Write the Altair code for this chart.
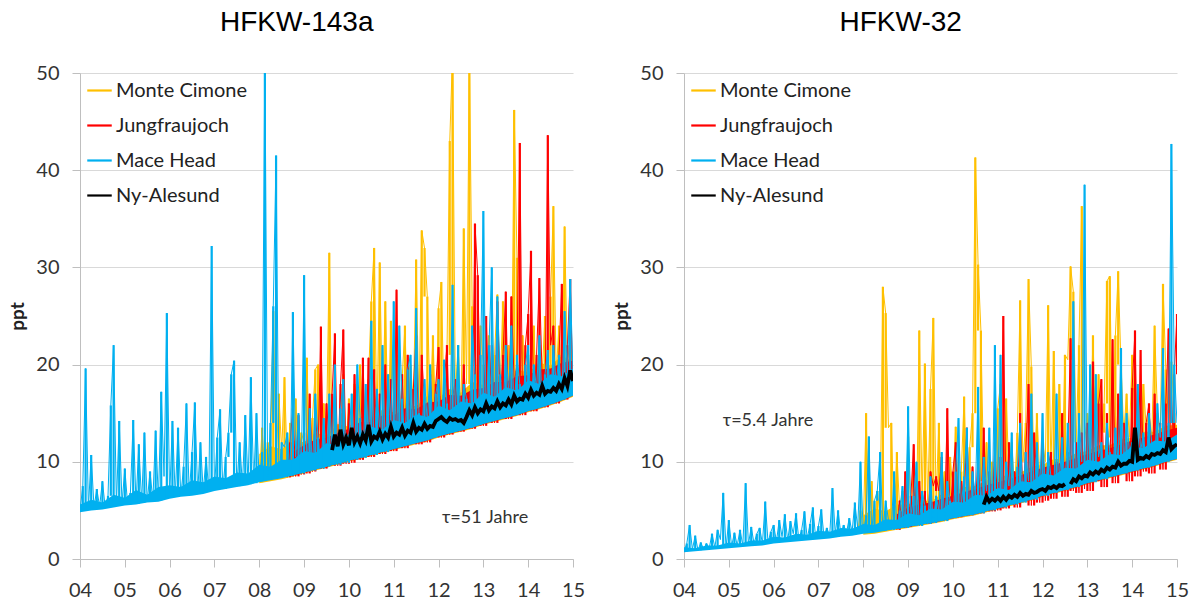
import altair as alt
import pandas as pd

STEP = 1 / 16          # spacing of the spike series (years)
BAND_STEP = 1 / 4      # spacing of the dense-band envelopes (years)
STATIONS = ["Monte Cimone", "Jungfraujoch", "Mace Head", "Ny-Alesund"]
COLORS = ["#FFC000", "#FF0000", "#00B0F0", "#000000"]
YEAR_TICKS = list(range(2004, 2016))
PPT_TICKS = [0, 10, 20, 30, 40, 50]
TITLES = ["HFKW-143a", "HFKW-32"]
NOTES = ["\u03c4=51 Jahre", "\u03c4=5.4 Jahre"]

# ---------------- HFKW-143a : spike series ----------------
A_MH_START = 2004.0
A_MH = [
    5.0, 7.5, 19.6, 5.2, 10.7, 5.3, 7.2, 5.4, 8.0, 5.3, 6.5, 15.8, 22.0, 5.6, 14.2, 5.7,
    9.3, 5.6, 6.8, 14.3, 5.7, 11.8, 5.8, 13.0, 5.9, 9.0, 6.0, 13.2, 6.0, 17.2, 8.5, 25.3,
    6.3, 14.2, 6.4, 13.5, 6.5, 9.5, 16.0, 6.6, 11.0, 16.1, 6.8, 12.0, 6.9, 10.5, 7.0, 32.2,
    7.1, 12.5, 15.4, 7.2, 10.5, 13.0, 19.0, 20.4, 7.5, 12.0, 7.6, 14.8, 7.7, 18.7, 7.8, 15.0,
    8.0, 11.0, 52.0, 8.2, 14.0, 26.0, 41.5, 8.4, 12.0, 11.5, 13.0, 8.6, 25.4, 10.5, 15.0, 8.8,
    29.2, 9.0, 15.5, 9.1, 17.0, 12.5, 9.3, 14.5, 9.5, 17.0, 11.5, 20.0, 9.7, 15.5, 18.5, 9.9,
    12.5, 17.0, 10.2, 20.0, 14.5, 10.4, 18.0, 12.5, 24.5, 10.7, 17.5, 13.0, 22.0, 11.0, 19.0, 14.0,
    26.5, 11.5, 24.0, 16.5, 11.7, 19.5, 21.0, 12.0, 25.8, 15.0, 12.2, 18.5, 14.0, 20.0, 12.5, 17.0,
    18.5, 12.8, 20.5, 16.0, 13.0, 28.2, 15.0, 22.0, 13.3, 18.0, 16.5, 13.5, 24.0, 19.0, 13.8, 21.0,
    35.8, 14.2, 22.0, 30.0, 14.4, 27.0, 19.0, 14.6, 22.0, 17.0, 24.0, 14.9, 21.0, 18.0, 15.2, 20.0,
    22.0, 15.4, 20.0, 17.5, 23.0, 15.7, 19.0, 21.5, 16.0, 22.0, 18.0, 21.0, 16.4, 25.5, 19.0, 28.8,
    19.0,
]
A_MC_START = 2008.0
A_MC = [
    7.9, 13.5, 9.0, 12.0, 10.5, 25.5, 9.5, 17.0, 11.0, 18.7, 9.6, 14.0, 10.5, 16.5, 9.8, 13.0,
    12.0, 20.7, 10.0, 14.5, 19.5, 20.0, 11.0, 16.0, 13.0, 31.5, 11.5, 17.0, 12.0, 15.0, 19.0, 11.5,
    16.5, 13.0, 18.0, 12.0, 20.0, 14.0, 12.5, 18.5, 26.5, 32.0, 14.0, 30.5, 15.0, 26.5, 13.5, 24.5,
    15.0, 21.0, 13.5, 18.5, 24.0, 14.0, 20.0, 16.0, 30.8, 15.0, 33.8, 32.0, 27.0, 15.5, 23.0, 14.0,
    25.8, 28.5, 15.0, 21.0, 43.0, 52.0, 17.0, 22.0, 15.0, 34.0, 18.0, 52.0, 26.0, 22.0, 16.0, 24.0,
    20.0, 14.3, 23.0, 16.5, 21.0, 27.2, 17.5, 26.5, 18.0, 22.0, 14.8, 46.2, 31.0, 18.5, 23.0, 17.5,
    21.0, 18.5, 24.0, 15.5, 22.0, 19.0, 25.0, 16.0, 27.0, 36.3, 19.0, 24.0, 16.4, 34.2, 20.0, 23.0,
    16.8,
]
A_JFJ_START = 2008.625
A_JFJ = [
    8.4, 12.0, 15.5, 8.5, 14.8, 8.7,
    13.0, 8.8, 17.0, 9.0, 15.0, 11.0, 23.9, 9.3, 16.0, 12.0, 17.0, 23.2, 9.6, 18.0, 23.6, 9.8,
    16.0, 9.9, 19.0, 12.0, 10.2, 20.7, 11.5, 20.7, 10.5, 19.5, 12.0, 17.0, 10.8, 20.0, 12.0, 18.5,
    11.1, 27.7, 12.5, 19.0, 11.4, 21.0, 13.0, 17.5, 23.0, 11.8, 21.0, 16.0, 12.0, 19.0, 14.0, 18.0,
    21.8, 12.5, 18.0, 22.0, 12.8, 16.5, 18.5, 14.5, 13.1, 20.0, 15.0, 17.0, 13.4, 34.5, 29.2, 15.5,
    13.7, 25.0, 16.0, 22.0, 14.0, 26.5, 16.5, 21.0, 27.5, 14.4, 27.0, 18.0, 20.0, 42.8, 14.8, 22.0,
    25.2, 31.7, 15.2, 21.0, 28.9, 18.5, 15.6, 43.6, 22.0, 24.0, 16.0, 21.0, 28.3, 16.4, 22.0, 28.8,
    17.0,
]
A_NY_START = 2009.625
A_NY = [
    11.2, 12.8, 11.6, 13.3, 11.8, 12.5,
    11.7, 13.5, 12.0, 12.6, 11.9, 12.8, 12.2, 13.8, 12.1, 12.6, 12.4, 13.1, 12.3, 12.9, 12.5, 13.6,
    12.6, 13.0, 12.8, 13.5, 12.7, 13.2, 13.0, 14.0, 13.1, 13.5, 13.3, 13.9, 13.4, 13.7, 13.6, 14.2,
    14.4, 14.6, 14.3, 14.1, 14.5, 14.3, 14.4, 14.2, 14.3, 14.0, 14.6, 15.3, 14.8, 15.6, 15.0, 15.4,
    15.2, 16.0, 15.3, 15.7, 15.5, 16.2, 15.6, 16.0, 15.8, 16.4, 15.9, 16.8, 16.2, 16.5, 16.4, 17.0,
    16.6, 17.4, 16.8, 17.1, 16.9, 17.8, 17.0, 17.3, 17.2, 17.6, 17.3, 18.0, 17.5, 18.6, 17.8, 19.4,
    18.3,
]

# ---------------- HFKW-143a : dense-band envelopes ----------------
A_MH_BAND_START = 2004.0
A_MH_BAND_LO = [
    4.8, 5.0, 5.1, 5.3, 5.5, 5.6, 5.8, 5.9, 6.2, 6.4, 6.5, 6.7, 7.0, 7.2, 7.4, 7.6,
    7.9, 8.1, 8.3, 8.6, 8.9, 9.2, 9.5, 9.8, 10.1, 10.4, 10.7, 11.0, 11.3, 11.6, 11.9, 12.2,
    12.6, 12.9, 13.2, 13.5, 13.9, 14.2, 14.5, 14.8, 15.2, 15.5, 15.9, 16.3, 16.8,
]
A_MH_BAND_HI = [
    5.6, 6.1, 5.8, 6.6, 6.3, 7.1, 6.6, 7.4, 7.6, 7.4, 8.1, 7.9, 8.5, 8.3, 8.9, 8.8,
    9.7, 9.5, 10.2, 10.2, 11.1, 10.9, 11.9, 11.7, 12.9, 12.6, 13.6, 13.3, 14.3, 14.0, 14.9, 14.6,
    15.8, 15.3, 16.2, 16.0, 17.1, 16.7, 17.7, 17.3, 18.4, 18.0, 19.0, 18.8, 19.6,
]
A_MC_BAND_START = 2008.0
A_MC_BAND_LO = [
    7.8, 8.0, 8.2, 8.5, 8.8, 9.1, 9.4, 9.7, 10.0, 10.3, 10.6, 10.9, 11.2, 11.5, 11.8, 12.1,
    12.5, 12.8, 13.1, 13.4, 13.8, 14.1, 14.4, 14.7, 15.1, 15.4, 15.8, 16.2, 16.7,
]
A_MC_BAND_HI = [
    10.8, 11.6, 11.3, 12.2, 12.0, 13.0, 12.7, 13.9, 13.6, 14.7, 14.3, 15.4, 15.1, 16.0, 15.7, 16.8,
    16.6, 17.5, 17.1, 18.2, 17.9, 18.9, 18.6, 19.5, 19.2, 20.2, 19.9, 20.9, 20.3,
]
A_JFJ_BAND_START = 2008.75
A_JFJ_BAND_LO = [
    8.6, 8.9, 9.2, 9.5, 9.8, 10.1, 10.4, 10.7, 11.0, 11.3, 11.6, 11.9, 12.2,
    12.6, 12.9, 13.2, 13.5, 13.9, 14.2, 14.5, 14.8, 15.2, 15.5, 15.9, 16.3, 16.8,
]
A_JFJ_BAND_HI = [
    11.0, 11.7, 12.3, 12.5, 13.0, 13.4, 14.1, 14.1, 14.8, 14.8, 15.5, 15.4, 16.1,
    16.2, 16.9, 16.8, 17.4, 17.6, 18.2, 18.2, 18.8, 18.9, 19.5, 19.6, 20.2, 20.4,
]

# ---------------- HFKW-32 : spike series ----------------
B_MH_START = 2004.0
B_MH = [
    0.8, 1.6, 3.5, 1.0, 2.4, 0.9, 1.7, 1.0, 1.6, 1.1, 2.6, 1.2, 3.0, 2.0, 6.8, 1.2,
    4.0, 1.3, 2.7, 1.4, 3.0, 1.4, 7.8, 1.5, 3.3, 1.6, 2.6, 3.2, 1.6, 5.9, 1.7, 2.8,
    3.5, 1.8, 4.0, 2.3, 4.6, 1.9, 3.9, 2.6, 4.7, 2.0, 3.0, 4.9, 2.1, 3.6, 5.3, 2.2,
    3.4, 5.1, 2.3, 3.2, 2.4, 7.3, 2.6, 5.0, 2.5, 3.5, 2.7, 4.2, 2.8, 5.8, 3.2, 10.0,
    2.7, 4.5, 12.6, 2.8, 6.0, 7.0, 11.0, 2.9, 6.0, 4.0, 3.0, 9.0, 3.1, 5.0, 7.5, 3.2,
    15.7, 4.5, 6.5, 10.0, 3.4, 7.0, 5.5, 3.6, 8.5, 3.7, 6.5, 5.0, 11.0, 3.9, 8.0, 6.0,
    4.2, 9.0, 14.5, 5.5, 8.5, 13.5, 4.5, 9.0, 6.5, 17.7, 4.7, 10.5, 7.0, 13.5, 5.0, 22.0,
    6.5, 21.0, 5.3, 10.0, 7.5, 13.0, 5.6, 9.5, 14.0, 5.8, 11.0, 8.0, 17.0, 6.1, 12.0, 7.5,
    15.0, 6.5, 11.0, 8.5, 6.8, 17.0, 8.0, 12.5, 7.1, 14.0, 9.0, 26.5, 7.4, 15.0, 10.0, 38.5,
    9.0, 20.0, 7.9, 19.0, 10.5, 12.0, 8.2, 14.0, 11.0, 8.5, 13.5, 10.0, 21.7, 8.8, 15.0, 11.0,
    12.0, 9.1, 18.0, 11.0, 13.0, 9.4, 15.0, 12.0, 9.7, 16.0, 12.5, 21.7, 10.0, 14.0, 42.7, 20.0,
    14.0,
]
B_MC_START = 2007.875
B_MC = [
    2.7, 5.0,
    3.0, 15.0, 4.0, 8.0, 3.5, 7.0, 4.5, 28.0, 25.3, 13.5, 14.0, 3.8, 11.0, 5.0, 7.0, 4.2,
    12.6, 5.0, 10.0, 4.5, 23.5, 6.0, 20.1, 5.5, 17.5, 24.8, 6.0, 14.0, 5.0, 9.0, 4.8, 10.5,
    7.0, 13.6, 5.5, 9.0, 16.7, 6.0, 11.5, 15.0, 41.3, 30.3, 23.5, 8.0, 12.0, 6.0, 10.0, 7.5,
    15.5, 18.0, 7.0, 16.5, 9.0, 12.0, 7.0, 13.0, 26.6, 10.0, 14.0, 28.8, 19.8, 9.0, 15.0, 8.5,
    12.0, 10.0, 26.1, 9.5, 21.4, 11.0, 18.0, 9.0, 21.0, 20.5, 30.1, 27.5, 12.0, 22.0, 36.3, 12.0,
    15.0, 11.0, 23.0, 12.0, 19.0, 13.0, 16.0, 28.6, 29.1, 12.5, 23.0, 29.6, 20.0, 13.0, 17.0, 12.5,
    21.0, 14.0, 16.0, 12.0, 18.0, 13.5, 15.0, 12.5, 24.0, 15.0, 13.0, 28.3, 19.5, 14.0, 20.3, 15.0,
    11.5,
]
B_JFJ_START = 2008.75
B_JFJ = [
    3.0, 6.0, 3.2, 9.0,
    3.3, 6.5, 11.8, 3.5, 8.0, 4.0, 7.0, 3.6, 9.0, 7.5, 8.5, 7.0, 10.5, 4.0, 15.5, 4.2,
    9.0, 12.0, 4.3, 8.0, 6.0, 13.5, 4.5, 9.5, 5.0, 11.0, 4.7, 13.5, 5.0, 9.0, 4.9, 12.0,
    5.0, 10.5, 25.0, 5.2, 12.0, 6.0, 9.0, 5.3, 15.0, 6.5, 11.0, 18.0, 5.5, 13.0, 8.0, 5.8,
    12.0, 6.0, 9.5, 11.0, 6.2, 10.0, 7.0, 15.0, 6.4, 11.0, 22.7, 7.0, 12.0, 6.8, 13.0, 7.2,
    14.0, 7.0, 20.3, 8.0, 16.0, 18.5, 7.4, 15.0, 8.5, 22.6, 7.8, 17.0, 9.0, 14.0, 12.0, 8.0,
    17.6, 23.5, 8.5, 21.5, 9.0, 14.0, 16.0, 8.8, 17.0, 10.0, 14.0, 9.2, 16.0, 23.7, 11.0, 19.0,
    25.2,
]
B_NY1_START = 2010.6875
B_NY1 = [
    5.6, 6.4, 5.9, 6.2, 6.0,
    6.3, 6.0, 6.4, 6.1, 6.5, 6.3, 6.6, 6.4, 6.8, 6.5, 6.7, 6.6, 7.0, 6.8, 6.9, 7.1,
    7.2, 7.0, 7.4, 7.3, 7.5, 7.3, 7.6, 7.5, 7.7,
]
B_NY2_START = 2012.625
B_NY2 = [
    7.7, 8.2, 8.0, 8.5, 8.3, 8.6,
    8.5, 8.9, 8.7, 9.0, 8.8, 9.2, 9.0, 9.4, 9.2, 9.5, 9.4, 10.0, 9.6, 9.8, 9.8, 10.1,
    10.0, 13.5, 10.2, 10.4, 10.3, 10.6, 10.4, 10.8, 10.7, 10.9, 10.8, 11.2, 11.0, 12.5, 11.3, 11.6,
    11.8,
]

# ---------------- HFKW-32 : dense-band envelopes ----------------
B_MH_BAND_START = 2004.0
B_MH_BAND_LO = [
    0.7, 0.8, 0.9, 1.0, 1.1, 1.2, 1.3, 1.4, 1.6, 1.7, 1.8, 1.9, 2.0, 2.1, 2.3, 2.4,
    2.6, 2.7, 2.9, 3.1, 3.3, 3.5, 3.7, 3.9, 4.2, 4.4, 4.6, 4.9, 5.2, 5.5, 5.8, 6.1,
    6.5, 6.8, 7.1, 7.4, 7.8, 8.1, 8.4, 8.7, 9.0, 9.3, 9.6, 10.0, 10.3,
]
B_MH_BAND_HI = [
    1.2, 1.1, 1.4, 1.4, 1.7, 1.6, 1.9, 1.9, 2.3, 2.2, 2.6, 2.5, 2.9, 2.8, 3.2, 3.1,
    3.6, 3.5, 4.1, 4.0, 4.7, 4.5, 5.2, 5.1, 5.9, 5.8, 6.6, 6.5, 7.3, 7.1, 8.0, 7.9,
    8.8, 8.6, 9.4, 9.3, 10.2, 10.0, 10.8, 10.7, 11.6, 11.4, 12.2, 12.1, 12.8,
]
B_MC_BAND_START = 2008.0
B_MC_BAND_LO = [
    2.5, 2.6, 2.8, 3.0, 3.2, 3.4, 3.6, 3.8, 4.1, 4.3, 4.5, 4.8, 5.1, 5.4, 5.7, 6.0,
    6.4, 6.7, 7.0, 7.3, 7.7, 8.0, 8.3, 8.6, 8.9, 9.2, 9.5, 9.9, 10.2,
]
B_MC_BAND_HI = [
    4.5, 5.2, 4.9, 5.6, 5.6, 6.2, 5.9, 6.7, 6.8, 7.4, 7.5, 8.1, 8.2, 8.8, 8.9, 9.5,
    9.7, 10.3, 10.3, 10.9, 11.1, 11.7, 11.7, 12.3, 12.5, 13.1, 13.1, 13.7, 13.8,
]
B_JFJ_BAND_START = 2008.75
B_JFJ_BAND_LO = [
    3.1, 3.3, 3.5, 3.7, 3.9, 4.2, 4.4, 4.6, 4.9, 5.2, 5.5, 5.8, 6.1,
    6.5, 6.8, 7.1, 7.4, 7.8, 8.1, 8.4, 8.7, 9.0, 9.3, 9.6, 10.0, 10.3,
]
B_JFJ_BAND_HI = [
    4.6, 5.3, 5.6, 5.8, 6.2, 6.5, 6.9, 7.2, 7.6, 7.9, 8.2, 8.6, 9.0,
    9.4, 9.7, 10.0, 10.4, 10.8, 11.1, 11.4, 11.8, 12.2, 12.5, 12.8, 13.2, 13.5,
]

SPIKES = [
    (TITLES[0], "Monte Cimone", "a", A_MC_START, A_MC),
    (TITLES[0], "Jungfraujoch", "a", A_JFJ_START, A_JFJ),
    (TITLES[0], "Mace Head", "a", A_MH_START, A_MH),
    (TITLES[0], "Ny-Alesund", "a", A_NY_START, A_NY),
    (TITLES[1], "Monte Cimone", "a", B_MC_START, B_MC),
    (TITLES[1], "Jungfraujoch", "a", B_JFJ_START, B_JFJ),
    (TITLES[1], "Mace Head", "a", B_MH_START, B_MH),
    (TITLES[1], "Ny-Alesund", "a", B_NY1_START, B_NY1),
    (TITLES[1], "Ny-Alesund", "b", B_NY2_START, B_NY2),
]
BANDS = [
    (TITLES[0], "Monte Cimone", A_MC_BAND_START, A_MC_BAND_LO, A_MC_BAND_HI),
    (TITLES[0], "Jungfraujoch", A_JFJ_BAND_START, A_JFJ_BAND_LO, A_JFJ_BAND_HI),
    (TITLES[0], "Mace Head", A_MH_BAND_START, A_MH_BAND_LO, A_MH_BAND_HI),
    (TITLES[1], "Monte Cimone", B_MC_BAND_START, B_MC_BAND_LO, B_MC_BAND_HI),
    (TITLES[1], "Jungfraujoch", B_JFJ_BAND_START, B_JFJ_BAND_LO, B_JFJ_BAND_HI),
    (TITLES[1], "Mace Head", B_MH_BAND_START, B_MH_BAND_LO, B_MH_BAND_HI),
]

rows = []
for panel, station, seg, start, vals in SPIKES:
    for i, v in enumerate(vals):
        rows.append({"panel": panel, "station": station, "seg": seg,
                     "t": start + i * STEP, "v": v})
df = pd.DataFrame(rows)

brows = []
for panel, station, start, lo, hi in BANDS:
    for i, (a, b) in enumerate(zip(lo, hi)):
        brows.append({"panel": panel, "station": station,
                      "t": start + i * BAND_STEP, "lo": a, "hi": b})
bdf = pd.DataFrame(brows)

FONT = "Lato"
WIDTH, HEIGHT = 493, 486
XSCALE = alt.Scale(domain=[2004, 2015], nice=False, zero=False)
YSCALE = alt.Scale(domain=[0, 50], nice=False)


def make_panel(title, note, note_x, note_y):
    d = df[df["panel"] == title]
    bd = bdf[bdf["panel"] == title]
    x = alt.X("t:Q", title=None, scale=XSCALE,
              axis=alt.Axis(values=YEAR_TICKS, grid=False,
                            labelExpr="substring(toString(datum.value), 2, 4)",
                            labelPadding=13, labelFlush=False))
    y = alt.Y("v:Q", title="ppt", scale=YSCALE,
              axis=alt.Axis(values=PPT_TICKS, labelPadding=13, titlePadding=8))
    color = alt.Color("station:N",
                      scale=alt.Scale(domain=STATIONS, range=COLORS),
                      legend=alt.Legend(title=None, orient="none", legendX=6, legendY=4,
                                        symbolType="stroke", symbolSize=600,
                                        symbolStrokeWidth=2.2, labelFont=FONT,
                                        labelFontSize=20, labelColor="#222222",
                                        labelOffset=3, rowPadding=11, padding=0))
    layers = []
    for s, c in zip(STATIONS, COLORS):
        sub = d[d["station"] == s]
        if s == "Ny-Alesund":
            layers.append(
                alt.Chart(sub)
                .mark_line(clip=True, strokeWidth=3.8)
                .encode(x=x, y=y, color=color, detail="seg:N")
            )
            continue
        band = bd[bd["station"] == s]
        layers.append(
            alt.Chart(band)
            .mark_area(clip=True, color=c, opacity=1)
            .encode(x=alt.X("t:Q", scale=XSCALE),
                    y=alt.Y("lo:Q", scale=YSCALE), y2="hi:Q")
        )
        layers.append(
            alt.Chart(sub)
            .mark_line(clip=True, strokeWidth=1)
            .encode(x=x, y=y, color=color)
        )
        layers.append(
            alt.Chart(sub)
            .transform_window(floor="min(v)", frame=[-1, 1], sort=[alt.SortField("t")],
                              groupby=["seg"])
            .mark_rule(clip=True, strokeWidth=2.2)
            .encode(x=x, y=y, y2="floor:Q", color=color)
        )
    txt = (alt.Chart(pd.DataFrame({"k": [0]}))
           .mark_text(font=FONT, fontSize=18, color="#333333", align="center", baseline="middle")
           .encode(x=alt.value(note_x), y=alt.value(note_y), text=alt.value(note)))
    return alt.layer(*layers, txt).properties(
        width=WIDTH, height=HEIGHT,
        title=alt.TitleParams(title, font="Liberation Sans", fontSize=28,
                              fontWeight="normal", color="#000000",
                              anchor="middle", frame="bounds", offset=26),
    )


left = make_panel(TITLES[0], NOTES[0], 405, 445)
right = make_panel(TITLES[1], NOTES[1], 84, 348)

chart = (
    alt.hconcat(left, right, spacing=27)
    .resolve_legend(color="independent")
    .properties(padding={"left": 8, "top": 9, "right": 5, "bottom": 0})
    .configure_view(stroke=None)
    .configure_axis(labelFont=FONT, labelFontSize=20, labelColor="#333333",
                    titleFont=FONT, titleFontSize=19, titleFontWeight="bold",
                    titleColor="#222222", domainColor="#bfbfbf", tickColor="#bfbfbf",
                    gridColor="#d9d9d9", tickSize=8, domainWidth=1, gridWidth=1)
)

chart.save("out.html", embed_options={"renderer": "svg", "actions": False})
